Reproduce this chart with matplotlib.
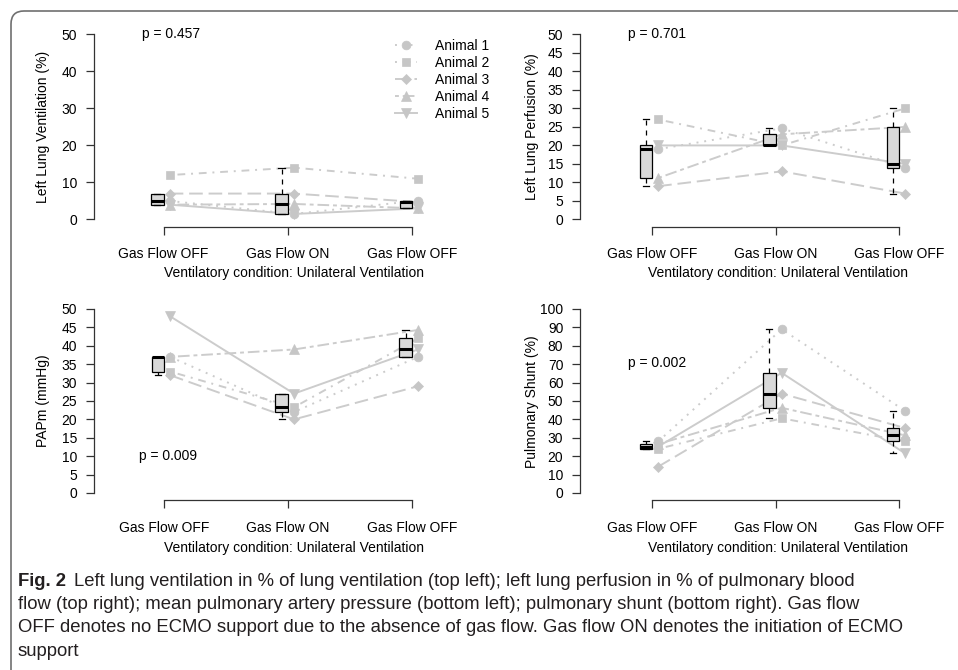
import matplotlib
matplotlib.use('Agg')
import matplotlib.pyplot as plt
from matplotlib.patches import FancyBboxPatch
from matplotlib.transforms import IdentityTransform

# ---------------- data ----------------
categories = ["Gas Flow OFF", "Gas Flow ON", "Gas Flow OFF"]
animals = ["Animal 1", "Animal 2", "Animal 3", "Animal 4", "Animal 5"]

vent_a1 = [5, 1.5, 5.1]
vent_a2 = [12, 14, 11]
vent_a3 = [7, 7, 4.7]
vent_a4 = [4, 4.2, 3]
vent_a5 = [4, 1.5, 3]

perf_a1 = [19, 24.6, 14]
perf_a2 = [27, 20, 30]
perf_a3 = [9, 13, 7]
perf_a4 = [11.2, 23, 25]
perf_a5 = [20, 20, 15]

papm_a1 = [37, 22, 37]
papm_a2 = [33, 23.3, 42]
papm_a3 = [32, 20, 29]
papm_a4 = [37, 39, 44.3]
papm_a5 = [48, 27, 39]

shunt_a1 = [28, 89, 44.6]
shunt_a2 = [24, 40.6, 28]
shunt_a3 = [14.3, 54, 35.3]
shunt_a4 = [26.6, 46.3, 31.3]
shunt_a5 = [25.2, 65.3, 21.5]

p_values = ["p = 0.457", "p = 0.701", "p = 0.009", "p = 0.002"]
y_labels = ["Left Lung Ventilation (%)", "Left Lung Perfusion (%)",
            "PAPm (mmHg)", "Pulmonary Shunt (%)"]
x_label = "Ventilatory condition: Unilateral Ventilation"

caption_bold = "Fig. 2"
caption_lines = [
    "Left lung ventilation in % of lung ventilation (top left); left lung perfusion in % of pulmonary blood",
    "flow (top right); mean pulmonary artery pressure (bottom left); pulmonary shunt (bottom right). Gas flow",
    "OFF denotes no ECMO support due to the absence of gas flow. Gas flow ON denotes the initiation of ECMO",
    "support",
]

# ---------------- style ----------------
W, H = 958, 670
plt.rcParams['font.family'] = ['Liberation Sans', 'DejaVu Sans']
FS = 10
LINE_C = '#CCCCCC'
MARK_C = '#C6C6C6'
BOX_C = '#D9D9D9'
AX_C = '#333333'

markers = ['o', 's', 'D', '^', 'v']
msizes = [6.3, 5.7, 5.0, 6.8, 6.8]
dashes = [(1, 3), (1, 3, 4, 3), (7, 3), (2, 2, 6, 2), None]

fig = plt.figure(figsize=(W / 100, H / 100), dpi=100)


def fx(px):
    return px / W


def fy(py):
    return 1 - py / H


panels = [
    dict(series=[vent_a1, vent_a2, vent_a3, vent_a4, vent_a5], ymax=50, ystep=10,
         axx=94, cat1=163.5, cat3=412, y0=219.5, ytop=34.3, pxy=(1.06, 50),
         xl=(294, 273.3), yl=(43, 126.5)),
    dict(series=[perf_a1, perf_a2, perf_a3, perf_a4, perf_a5], ymax=50, ystep=5,
         axx=580, cat1=652, cat3=899, y0=219.5, ytop=34.3, pxy=(1.04, 50),
         xl=(777.5, 273.3), yl=(532, 126.5)),
    dict(series=[papm_a1, papm_a2, papm_a3, papm_a4, papm_a5], ymax=50, ystep=5,
         axx=94, cat1=164, cat3=411.7, y0=493, ytop=309, pxy=(1.03, 10),
         xl=(294, 548.3), yl=(43, 401)),
    dict(series=[shunt_a1, shunt_a2, shunt_a3, shunt_a4, shunt_a5], ymax=100, ystep=10,
         axx=580, cat1=652, cat3=899, y0=493, ytop=309, pxy=(1.045, 70.5),
         xl=(777.5, 548.3), yl=(532, 402)),
]

pos = [1, 2, 3]
box_off = -0.05
pt_off = 0.05

legend_handles = []
for i, P in enumerate(panels):
    ux = (P['cat3'] - P['cat1']) / 2.0
    uy = (P['y0'] - P['ytop']) / P['ymax']
    pad = 0.04 * P['ymax']
    xl = 1 - (P['cat1'] - P['axx']) / ux
    xr = 3.66
    left = P['axx']
    right = P['cat1'] + (xr - 1) * ux
    top = P['ytop'] - pad * uy
    bot = P['y0'] + pad * uy
    ax = fig.add_axes([fx(left), fy(bot), (right - left) / W, (bot - top) / H])
    ax.set_xlim(xl, xr)
    ax.set_ylim(-pad, P['ymax'] + pad)
    ax.patch.set_alpha(0)

    # animal lines and points
    for k, s in enumerate(P['series']):
        xs = [p + pt_off for p in pos]
        ln, = ax.plot(xs, s, color=LINE_C, lw=1.4, zorder=1,
                      marker=markers[k], ms=msizes[k], mfc=MARK_C, mec=MARK_C,
                      mew=0.5, label=animals[k])
        if dashes[k] is not None:
            ln.set_dashes(dashes[k])
        if i == 0:
            legend_handles.append(ln)

    # boxplots
    groups = [[s[j] for s in P['series']] for j in range(3)]
    ax.boxplot(groups, positions=[p + box_off for p in pos], widths=0.1,
               showfliers=False, patch_artist=True, manage_ticks=False,
               boxprops=dict(facecolor=BOX_C, edgecolor='black', lw=0.9),
               medianprops=dict(color='black', lw=2.2, solid_capstyle='butt'),
               whiskerprops=dict(color='black', lw=0.9, linestyle=(0, (4, 4))),
               capprops=dict(color='black', lw=0.9),
               capwidths=0.05, zorder=3)

    # axes styling
    for sp in ['top', 'right']:
        ax.spines[sp].set_visible(False)
    for sp in ['left', 'bottom']:
        ax.spines[sp].set_color(AX_C)
        ax.spines[sp].set_linewidth(0.9)
    ax.spines['left'].set_bounds(0, P['ymax'])
    ax.spines['bottom'].set_bounds(1, 3)
    ax.set_yticks(list(range(0, P['ymax'] + 1, P['ystep'])))
    ax.set_xticks(pos)
    ax.set_xticklabels(categories)
    ax.tick_params(axis='both', direction='out', length=6, width=0.9, color=AX_C,
                   labelsize=FS, labelcolor='black')
    ax.tick_params(axis='y', pad=6)
    ax.tick_params(axis='x', pad=8.6)

    ax.text(P['pxy'][0], P['pxy'][1], p_values[i], fontsize=FS, ha='center', va='center')
    fig.text(fx(P['xl'][0]), fy(P['xl'][1]), x_label, fontsize=FS, ha='center', va='center')
    fig.text(fx(P['yl'][0]), fy(P['yl'][1]), y_labels[i], fontsize=FS, ha='center',
             va='center', rotation=90)

# legend
leg = fig.legend(handles=legend_handles, loc='upper left',
                 bbox_to_anchor=(fx(395), fy(38.5)), frameon=False, fontsize=FS,
                 handlelength=1.6, handletextpad=1.3, labelspacing=0.22,
                 borderpad=0, borderaxespad=0, numpoints=1)

# outer frame
frame = FancyBboxPatch((11, -40), 1100, H - 11 + 40,
                       boxstyle='round,pad=0,rounding_size=13',
                       transform=IdentityTransform(), fill=False,
                       ec='#707070', lw=1.2)
fig.add_artist(frame)

# caption
CFS = 13.3
cap_fam = ['Liberation Sans', 'DejaVu Sans']
baselines = [585.5, 609, 632.5, 656]
renderer = fig.canvas.get_renderer()
tb = fig.text(fx(18), fy(baselines[0]), caption_bold, fontsize=CFS, fontweight='bold',
              family=cap_fam, va='baseline', ha='left', color='#231F20')
bb = tb.get_window_extent(renderer=renderer)
fig.text((bb.x1 + 8) / W, fy(baselines[0]), caption_lines[0], fontsize=CFS,
         family=cap_fam, va='baseline', ha='left', color='#231F20')
for j in range(1, 4):
    fig.text(fx(18), fy(baselines[j]), caption_lines[j], fontsize=CFS,
             family=cap_fam, va='baseline', ha='left', color='#231F20')

fig.savefig('out.png', dpi=100)
